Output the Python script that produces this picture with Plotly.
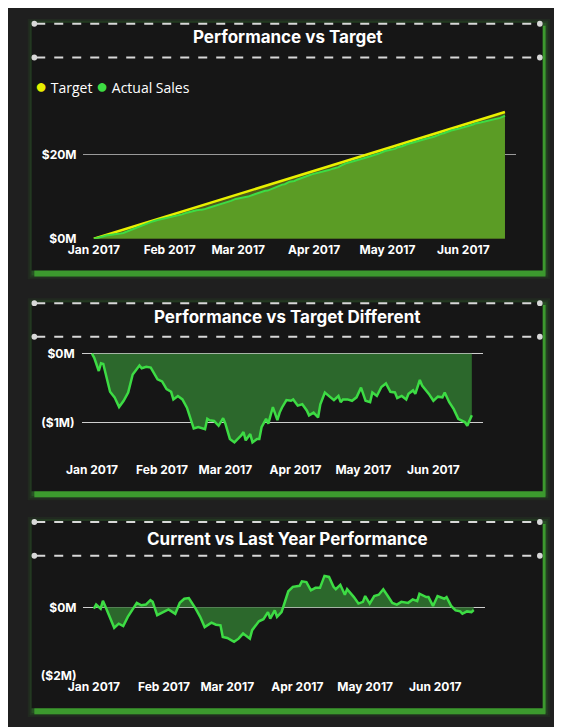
import pandas as pd
import plotly.graph_objects as go

W, H = 562, 727

# days since 2017-01-01 for the target / difference readings
diff_days = [0, 1, 3, 4, 5, 7, 8, 10, 12, 14, 16, 18, 19, 21, 22, 24, 26, 29, 31, 33, 35, 36, 38, 40,
             42, 44, 45, 47, 50, 51, 52, 54, 56, 58, 59, 61, 63, 66, 67, 68, 70, 71, 73, 74, 75, 77,
             78, 80, 82, 83, 84, 86, 88, 89, 91, 93, 95, 96, 98, 100, 101, 103, 105, 107, 109, 110,
             111, 113, 115, 117, 119, 121, 123, 124, 126, 128, 130, 132, 134, 135, 137, 139, 140,
             142, 143, 145, 146, 149, 151, 153, 155, 156, 158, 160, 162, 165, 166, 167, 168]
# cumulative target, $M
target = [0.00, 0.18, 0.54, 0.72, 0.90, 1.25, 1.43, 1.79, 2.15, 2.51, 2.86, 3.22, 3.40, 3.76, 3.94,
          4.30, 4.65, 5.19, 5.55, 5.91, 6.27, 6.44, 6.80, 7.16, 7.52, 7.88, 8.06, 8.41, 8.95, 9.13,
          9.31, 9.67, 10.02, 10.38, 10.56, 10.92, 11.28, 11.81, 11.99, 12.17, 12.53, 12.71, 13.07,
          13.25, 13.43, 13.78, 13.96, 14.32, 14.68, 14.86, 15.04, 15.39, 15.75, 15.93, 16.29, 16.65,
          17.01, 17.18, 17.54, 17.90, 18.08, 18.44, 18.80, 19.15, 19.51, 19.69, 19.87, 20.23, 20.59,
          20.94, 21.30, 21.66, 22.02, 22.20, 22.55, 22.91, 23.27, 23.63, 23.99, 24.17, 24.52, 24.88,
          25.06, 25.42, 25.60, 25.96, 26.13, 26.67, 27.03, 27.39, 27.75, 27.92, 28.28, 28.64, 29.00,
          29.54, 29.71, 29.89, 30.07]
# actual minus target, $M
diff = [0.00, -0.06, -0.25, -0.14, -0.15, -0.39, -0.55, -0.63, -0.77, -0.68, -0.56, -0.30, -0.26,
        -0.17, -0.21, -0.19, -0.20, -0.37, -0.40, -0.51, -0.55, -0.66, -0.61, -0.66, -0.78, -0.97,
        -1.08, -1.06, -1.09, -0.94, -0.96, -0.97, -1.04, -0.93, -1.01, -1.23, -1.28, -1.18, -1.13,
        -1.25, -1.16, -1.28, -1.23, -1.23, -1.06, -0.94, -1.01, -0.77, -0.96, -0.85, -0.78, -0.67,
        -0.68, -0.66, -0.75, -0.73, -0.82, -0.89, -0.85, -0.92, -0.73, -0.56, -0.61, -0.67, -0.61,
        -0.70, -0.66, -0.66, -0.68, -0.63, -0.49, -0.68, -0.70, -0.56, -0.61, -0.48, -0.43, -0.55,
        -0.56, -0.64, -0.61, -0.66, -0.58, -0.53, -0.58, -0.38, -0.46, -0.58, -0.68, -0.62, -0.63,
        -0.56, -0.70, -0.80, -0.94, -0.99, -1.04, -0.97, -0.89]

ly_days = [0, 1, 3, 4, 5, 7, 9, 11, 13, 15, 17, 19, 21, 23, 25, 26, 28, 31, 33, 36, 38, 40, 42, 45,
           47, 49, 52, 54, 56, 57, 59, 62, 64, 66, 69, 70, 73, 75, 77, 78, 80, 81, 83, 84, 86, 88,
           91, 92, 94, 96, 98, 100, 102, 104, 106, 107, 109, 111, 112, 115, 117, 119, 120, 122, 124,
           126, 128, 130, 132, 134, 136, 139, 141, 143, 144, 147, 148, 150, 152, 155, 156, 158, 160,
           162, 163, 165, 167, 168]
# current year minus last year, $M
ly_diff = [-0.04, 0.08, -0.04, 0.19, 0.04, -0.28, -0.60, -0.48, -0.55, -0.28, -0.09, 0.13, 0.06,
           0.08, 0.21, 0.16, -0.23, -0.14, -0.06, -0.19, 0.13, 0.25, 0.27, -0.04, -0.28, -0.58,
           -0.45, -0.51, -0.53, -0.87, -0.90, -1.01, -0.92, -0.77, -0.92, -0.67, -0.41, -0.35, -0.14,
           -0.33, -0.09, -0.28, -0.14, 0.06, 0.47, 0.60, 0.63, 0.76, 0.74, 0.50, 0.57, 0.57, 0.92,
           0.89, 0.60, 0.53, 0.66, 0.37, 0.53, 0.30, 0.11, 0.16, 0.33, 0.11, 0.33, 0.37, 0.53, 0.33,
           0.13, 0.08, 0.16, 0.13, 0.23, 0.18, 0.40, 0.30, 0.30, 0.04, 0.33, 0.25, 0.30, 0.04, -0.09,
           -0.12, -0.19, -0.12, -0.14, -0.08]

month_ticks = ["2017-01-01", "2017-02-01", "2017-03-01", "2017-04-01", "2017-05-01", "2017-06-01"]
month_labels = ["Jan 2017", "Feb 2017", "Mar 2017", "Apr 2017", "May 2017", "Jun 2017"]

start = pd.Timestamp("2017-01-01")
x_diff = [start + pd.Timedelta(days=d) for d in diff_days]
x_ly = [start + pd.Timedelta(days=d) for d in ly_days]
actual = [t + d for t, d in zip(target, diff)]

GREEN = "#3ddc44"
YELLOW = "#e8f000"
FONT = "Inter"


def px_x(p):
    return p / W


def px_y(p):
    return 1 - p / H


def day_range(left_days, right_days):
    return [start + pd.Timedelta(days=left_days), start + pd.Timedelta(days=right_days)]


fig = go.Figure()

# panel 1
fig.add_trace(go.Scatter(x=x_diff, y=target, mode="lines", line=dict(color=YELLOW, width=2.5),
                         fill="tozeroy", fillcolor="#4f5a1c", xaxis="x", yaxis="y"))
fig.add_trace(go.Scatter(x=x_diff, y=actual, mode="lines", line=dict(color=GREEN, width=2),
                         fill="tozeroy", fillcolor="#5b9c25", xaxis="x", yaxis="y"))
# panel 2
fig.add_trace(go.Scatter(x=x_diff, y=diff, mode="lines", line=dict(color=GREEN, width=2.5),
                         fill="tozeroy", fillcolor="#2c682c", xaxis="x2", yaxis="y2"))
# panel 3
fig.add_trace(go.Scatter(x=x_ly, y=ly_diff, mode="lines", line=dict(color=GREEN, width=2.5),
                         fill="tozeroy", fillcolor="#2c682c", xaxis="x3", yaxis="y3"))

tickfont = dict(family=FONT, size=12, color="white")
xcommon = dict(tickvals=month_ticks, ticktext=[f"<b>{t}</b>" for t in month_labels],
               tickfont=tickfont, showgrid=False, zeroline=False, showline=False, ticks="",
               ticklabelstandoff=2)

panels = [(15, 265, 16, 50, 29, "Performance vs Target"),
          (297, 488, 298, 332, 312, "Performance vs Target Different"),
          (518, 707, 519, 553, 536, "Current vs Last Year Performance")]

shapes = []
annotations = []
for top, bottom, d1, d2, ty, title in panels:
    for i, a in enumerate([0.06, 0.1, 0.18]):
        g = 7 - 2 * i
        shapes.append(dict(type="rect", xref="paper", yref="paper", layer="below",
                           x0=px_x(10 - g + 2), x1=px_x(550 + g + 1), y0=px_y(top - g + 3),
                           y1=px_y(bottom + g + 2), line=dict(width=0),
                           fillcolor=f"rgba(60,200,50,{a})"))
    shapes.append(dict(type="rect", xref="paper", yref="paper", layer="below",
                       x0=px_x(12), x1=px_x(553), y0=px_y(top + 3), y1=px_y(bottom + 6),
                       line=dict(width=0), fillcolor="#3c9a2e"))
    shapes.append(dict(type="rect", xref="paper", yref="paper", layer="below",
                       x0=px_x(9), x1=px_x(550), y0=px_y(top), y1=px_y(bottom),
                       line=dict(width=0), fillcolor="#161616"))
    for dy in (d1, d2):
        shapes.append(dict(type="line", xref="paper", yref="paper", x0=px_x(14), x1=px_x(545),
                           y0=px_y(dy), y1=px_y(dy), line=dict(color="#d8d8d8", width=2, dash="dash")))
        for cx in (12, 547):
            shapes.append(dict(type="circle", xref="paper", yref="paper",
                               x0=px_x(cx - 3), x1=px_x(cx + 3), y0=px_y(dy - 3), y1=px_y(dy + 3),
                               line=dict(width=0), fillcolor="#d8d8d8"))
    annotations.append(dict(text=f"<b>{title}</b>", xref="paper", yref="paper", x=px_x(280),
                            y=px_y(ty), showarrow=False, xanchor="center", yanchor="middle",
                            font=dict(family=FONT, size=17, color="white")))

annotations.append(dict(
    text=(f'<span style="color:{YELLOW};font-size:20px">●</span> Target '
          f'<span style="color:{GREEN};font-size:20px">●</span> Actual Sales'),
    xref="paper", yref="paper", x=px_x(11), y=px_y(78), showarrow=False, xanchor="left",
    yanchor="middle", font=dict(family="Open Sans", size=14, color="white")))

# no fixed width/height: the page fills the browser window
fig.update_layout(
    autosize=True, margin=dict(l=0, r=0, t=0, b=0),
    paper_bgcolor="#1f1f1f", plot_bgcolor="rgba(0,0,0,0)", showlegend=False,
    shapes=shapes, annotations=annotations,
    xaxis=dict(domain=[px_x(64), px_x(522)], range=day_range(-4.25, 172.6), anchor="y", **xcommon),
    yaxis=dict(domain=[px_y(233), px_y(90)], range=[0, 33.6], tickvals=[0, 20],
               ticktext=["<b>$0M</b>", "<b>$20M</b>"], tickfont=tickfont, gridcolor="#9a9a9a",
               zeroline=False, showline=False, anchor="x", ticklabelstandoff=6),
    xaxis2=dict(domain=[px_x(62), px_x(487)], range=day_range(-4.6, 173), anchor="y2", **xcommon),
    yaxis2=dict(domain=[px_y(455), px_y(340)], range=[-1.514, 0.129], tickvals=[0, -1],
                ticktext=["<b>$0M</b>", "<b>($1M)</b>"], tickfont=tickfont, gridcolor="#cfcfcf",
                zeroline=False, showline=False, anchor="x2", ticklabelstandoff=6),
    xaxis3=dict(domain=[px_x(64), px_x(489)], range=day_range(-4.6, 173), anchor="y3", **xcommon),
    yaxis3=dict(domain=[px_y(674), px_y(570)], range=[-2, 1.02], tickvals=[0, -2],
                ticktext=["<b>$0M</b>", "<b>($2M)</b>"], tickfont=tickfont, gridcolor="#cfcfcf",
                zeroline=False, showline=False, anchor="x3", ticklabelstandoff=6),
)

fig.write_html("out.html", default_width="100%", default_height="100vh")
